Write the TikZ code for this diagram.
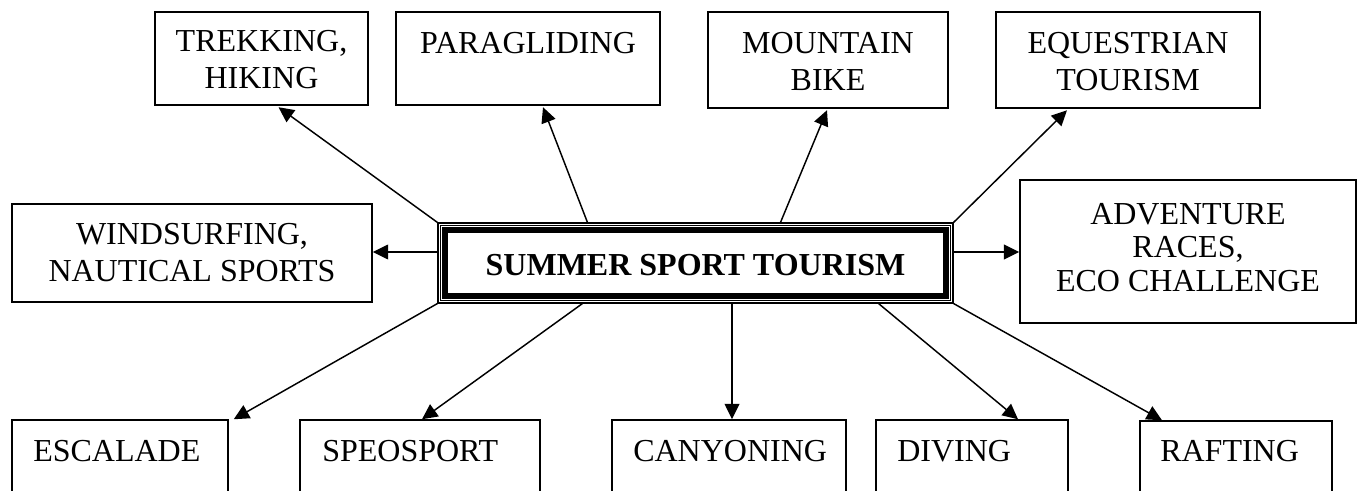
\documentclass[tikz,border=0pt]{standalone}
\usepackage{fontspec}
\setmainfont{Liberation Serif}
\usetikzlibrary{arrows.meta,calc,fit}
\begin{document}
\begin{tikzpicture}[x=0.75pt,y=-0.75pt,
  box/.style={draw, line width=1.1pt, inner sep=0pt},
  lbl/.style={inner sep=0pt, align=center, font=\fontsize{24}{27.5}\selectfont},
  lbll/.style={inner sep=0pt, anchor=north west, font=\fontsize{24}{27.5}\selectfont},
  arr/.style={line width=1.1pt, -{Triangle[length=11.5pt,width=11pt]}}]
\useasboundingbox (0,0) rectangle (1362,491);
\clip (0,0) rectangle (1362,491);
% boxes
\node[box, fit={(155,12)(368,105)}] (trek) {};
\node[box, fit={(396,12)(660,105)}] (para) {};
\node[box, fit={(708,12)(948,108)}] (mtb) {};
\node[box, fit={(996,12)(1260,108)}] (equ) {};
\node[box, fit={(12,204)(372,302)}] (wind) {};
\node[box, fit={(1020,180)(1356,323)}] (adv) {};
\node[box, fit={(12,420)(228,530)}] (esc) {};
\node[box, fit={(300,420)(540,530)}] (speo) {};
\node[box, fit={(612,420)(846,530)}] (cany) {};
\node[box, fit={(876,420)(1068,530)}] (div) {};
\node[box, fit={(1140,421)(1332,530)}] (raft) {};
% central box
\node[draw, line width=0.8pt, inner sep=0pt, fit={(438,223)(953,303)}] (c) {};
\draw[line width=0.8pt] ($(c.north west)+(3,3)$) rectangle ($(c.south east)+(-3,-3)$);
\draw[line width=3.9pt] ($(c.north west)+(7.5,7.5)$) rectangle ($(c.south east)+(-7.5,-7.5)$);
% texts
\node[lbl, anchor=north] (trekt) at (261.5,30) {TREKKING,\\HIKING};
\node[lbl, anchor=north] (parat) at (528,32) {PARAGLIDING};
\node[lbl, anchor=north] (mtbt) at (828,32) {MOUNTAIN\\BIKE};
\node[lbl, anchor=north] (equt) at (1128,32) {EQUESTRIAN\\TOURISM};
\node[lbl, anchor=north] (windt) at (192,223) {WINDSURFING,\\NAUTICAL SPORTS};
\node[lbl, anchor=north, font=\fontsize{24}{25}\selectfont] (advt) at (1188,203) {ADVENTURE\\RACES,\\ECO CHALLENGE};
\node[lbl, anchor=center, font=\fontsize{24}{27.5}\selectfont\bfseries] (ct) at (695.5,265) {SUMMER SPORT TOURISM};
\node[lbll] (esct) at (33,440) {ESCALADE};
\node[lbll] (speot) at (322,440) {SPEOSPORT};
\node[lbll] (canyt) at (633,440) {CANYONING};
\node[lbll] (divt) at (897,440) {DIVING};
\node[lbll] (raftt) at (1160,440) {RAFTING};
% arrows
\draw[arr] (c.north west) -- ($(trek.south)+(17,1.5)$);
\draw[arr] ($(c.north west)+(150,0)$) -- ($(para.south)+(15,1.5)$);
\draw[arr] ($(c.north west)+(343,0)$) -- ($(mtb.south)+(-1,1.5)$);
\draw[arr] (c.north east) -- ($(equ.south)+(-61,1.5)$);
\draw[arr] ($(c.west)+(0,-11)$) -- ($(wind.east)+(0,-1)$);
\draw[arr] ($(c.east)+(0,-11)$) -- ($(adv.west)+(0,0.5)$);
\draw[arr] (c.south west) -- ($(esc.north east)+(5,0)$);
\draw[arr] ($(c.south west)+(145,0)$) -- ($(speo.north)+(2,0)$);
\draw[arr] ($(c.south)+(36.5,0)$) -- ($(cany.north)+(3,0)$);
\draw[arr] ($(c.south east)+(-75,0)$) -- ($(div.north)+(46,0)$);
\draw[arr] (c.south east) -- ($(raft.north)+(-74,0)$);
\end{tikzpicture}
\end{document}
